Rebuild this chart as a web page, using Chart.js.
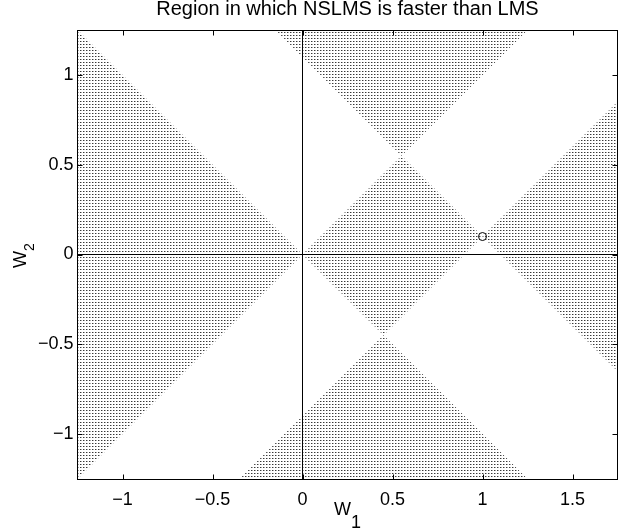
<!DOCTYPE html>
<html><head><meta charset="utf-8">
<script src="https://cdn.jsdelivr.net/npm/chart.js@4/dist/chart.umd.min.js"></script>
<style>html,body{margin:0;padding:0;background:#fff;overflow:hidden}#wrap{width:626px;height:531px;position:relative}</style>
</head><body><div id="wrap"><canvas id="c" width="626" height="531"></canvas></div>
<script>
// ---- data ----
const titleText = 'Region in which NSLMS is faster than LMS';
const xLabel = ['W', '1'];
const yLabel = ['W', '2'];
const xRange = [-1.25, 1.75];
const yRange = [-1.25, 1.25];
const xTicks = [-1, -0.5, 0, 0.5, 1, 1.5];
const yTicks = [-1, -0.5, 0, 0.5, 1];
// shaded regions: polygon vertices
const leftWedgeX = [-1.25, 0, -1.25];
const leftWedgeY = [1.25, 0, -1.25];
const topWedgeX = [-0.15, 0.55, 1.25];
const topWedgeY = [1.25, 0.55, 1.25];
const rightWedgeX = [1.75, 1, 1.75];
const rightWedgeY = [0.85, 0.1, -0.65];
const bottomWedgeX = [-0.35, 0.45, 1.25];
const bottomWedgeY = [-1.25, -0.45, -1.25];
const diamondX = [0, 0.55, 1, 0.45];
const diamondY = [0, 0.55, 0.1, -0.45];
// marker
const markerX = [1];
const markerY = [0.1];

const FONT = "'Liberation Sans', Arial, Helvetica, sans-serif";
const zip = (xs, ys) => xs.map((x, i) => ({x, y: ys[i]}));

const canvas = document.getElementById('c');
const ctx0 = canvas.getContext('2d');
function makePattern() {
  const t = document.createElement('canvas');
  t.width = 3; t.height = 3;
  const g = t.getContext('2d');
  g.fillStyle = '#383838'; g.fillRect(0, 0, 1, 1);
  g.fillStyle = '#a8a8a8'; g.fillRect(1, 0, 1, 1);
  const p = ctx0.createPattern(t, 'repeat');
  if (p.setTransform && typeof DOMMatrix !== 'undefined') p.setTransform(new DOMMatrix([1, 0, 0, 1, 2, 2]));
  return p;
}
const hatch = makePattern();

function region(xs, ys) {
  return {data: zip(xs, ys), fill: 'shape', backgroundColor: hatch, borderColor: 'rgba(0,0,0,0)',
    borderWidth: 0, pointRadius: 0, tension: 0, order: 5};
}

const fmt = v => (v < 0 ? '\u2212' + String(Math.abs(v)) : String(v));

const framePlugin = {
  id: 'frame',
  afterDraw(chart) {
    const {ctx, chartArea: a, scales} = chart;
    const L = Math.floor(a.left) + 0.5, R = Math.floor(a.right) + 0.5;
    const T = Math.floor(a.top) + 0.5, B = Math.floor(a.bottom) + 0.5;
    ctx.save();
    ctx.strokeStyle = '#000'; ctx.lineWidth = 1;
    ctx.strokeRect(L, T, R - L, B - T);
    const tl = 5;
    ctx.beginPath();
    xTicks.forEach(v => {
      const px = Math.round(scales.x.getPixelForValue(v)) + 0.5;
      ctx.moveTo(px, B); ctx.lineTo(px, B - tl);
      ctx.moveTo(px, T); ctx.lineTo(px, T + tl);
    });
    yTicks.forEach(v => {
      const py = Math.round(scales.y.getPixelForValue(v)) + 0.5;
      ctx.moveTo(L, py); ctx.lineTo(L + tl, py);
      ctx.moveTo(R, py); ctx.lineTo(R - tl, py);
    });
    ctx.stroke();
    // axis titles with subscripts
    ctx.fillStyle = '#000';
    ctx.font = '18px ' + FONT;
    ctx.textBaseline = 'alphabetic';
    ctx.textAlign = 'left';
    const wW = ctx.measureText(xLabel[0]).width;
    const w1 = ctx.measureText(xLabel[1]).width;
    const cx = (a.left + a.right) / 2;
    const sx = cx - (wW + w1) / 2;
    ctx.fillText(xLabel[0], sx, a.bottom + 36);
    ctx.fillText(xLabel[1], sx + wW, a.bottom + 49);
    // y title rotated
    const cy = (a.top + a.bottom) / 2;
    ctx.font = '14px ' + FONT;
    const w2 = ctx.measureText(yLabel[1]).width;
    ctx.font = '18px ' + FONT;
    ctx.translate(26, cy + (wW + w2) / 2 + 1);
    ctx.rotate(-Math.PI / 2);
    ctx.fillText(yLabel[0], 0, 0);
    ctx.font = '14px ' + FONT;
    ctx.fillText(yLabel[1], wW, 8);
    ctx.restore();
  }
};

new Chart(canvas, {
  type: 'line',
  data: {
    datasets: [
      {data: zip(markerX, markerY), showLine: false, pointRadius: 4, pointBorderWidth: 1,
        pointBorderColor: '#000', pointBackgroundColor: 'rgba(0,0,0,0)', pointStyle: 'circle', order: 0},
      {data: zip([0, 0], yRange), borderColor: '#000', borderWidth: 1, pointRadius: 0, fill: false, order: 1},
      {data: zip(xRange, [0, 0]), borderColor: '#000', borderWidth: 1, pointRadius: 0, fill: false, order: 1},
      region(leftWedgeX, leftWedgeY),
      region(topWedgeX, topWedgeY),
      region(rightWedgeX, rightWedgeY),
      region(bottomWedgeX, bottomWedgeY),
      region(diamondX, diamondY)
    ]
  },
  options: {
    responsive: false,
    animation: false,
    devicePixelRatio: 1,
    events: [],
    layout: {padding: {left: 0, right: 8.5, top: 0, bottom: 0}},
    plugins: {
      legend: {display: false},
      tooltip: {enabled: false},
      title: {display: true, text: titleText, fullSize: false, color: '#000',
        font: {family: FONT, size: 20, weight: 'normal', lineHeight: 0.85},
        padding: {top: 0.5, bottom: 12.5}}
    },
    scales: {
      x: {type: 'linear', min: xRange[0], max: xRange[1],
        afterBuildTicks: s => { s.ticks = xTicks.map(v => ({value: v})); },
        afterFit: s => { s.height = 52; },
        grid: {display: false, drawTicks: false}, border: {display: false},
        ticks: {color: '#000', padding: 10, maxRotation: 0, autoSkip: false,
          font: {family: FONT, size: 18}, callback: v => fmt(v)}},
      y: {type: 'linear', min: yRange[0], max: yRange[1],
        afterBuildTicks: s => { s.ticks = yTicks.map(v => ({value: v})); },
        afterFit: s => { s.width = 77.5; },
        grid: {display: false, drawTicks: false}, border: {display: false},
        ticks: {color: '#000', padding: 4, autoSkip: false,
          font: {family: FONT, size: 18}, callback: v => fmt(v)}}
    }
  },
  plugins: [framePlugin]
});
</script>
</body></html>
